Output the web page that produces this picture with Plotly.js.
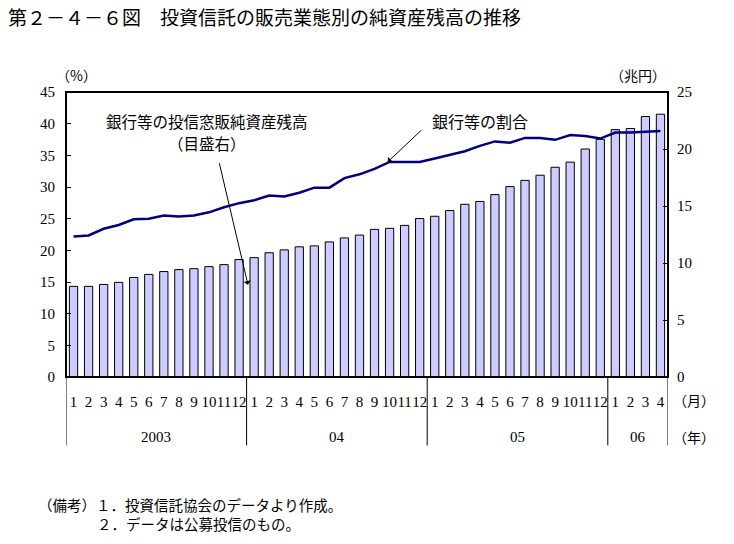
<!DOCTYPE html>
<html>
<head>
<meta charset="utf-8">
<script src="https://cdn.plot.ly/plotly-3.0.1.min.js"></script>
<style>html,body{margin:0;padding:0;background:#fff;}#chart{width:734px;height:544px;}</style>
</head>
<body>
<div id="chart"></div>
<script>
// ---- data ----
const months = ['1','2','3','4','5','6','7','8','9','10','11','12',
                '1','2','3','4','5','6','7','8','9','10','11','12',
                '1','2','3','4','5','6','7','8','9','10','11','12',
                '1','2','3','4'];
const yearLabels = ['2003','04','05','06'];
const yearCounts = [12, 12, 12, 4];
// 銀行等の投信窓販純資産残高（兆円, 目盛右）
const balance = [7.95,7.95,8.12,8.3,8.73,9.0,9.25,9.42,9.5,9.68,9.86,10.3,
                 10.47,10.9,11.15,11.42,11.5,11.85,12.2,12.45,12.95,13.04,13.3,13.9,
                 14.1,14.6,15.15,15.4,16.0,16.7,17.25,17.7,18.4,18.85,20.0,20.85,
                 21.7,21.8,22.85,23.05];
// 銀行等の割合（%）
const share = [22.2,22.35,23.4,24.0,24.9,25.0,25.5,25.35,25.5,26.0,26.8,27.45,
               27.9,28.65,28.5,29.1,29.9,29.9,31.4,32.0,32.85,33.95,33.95,33.95,
               34.5,35.07,35.65,36.5,37.2,37.0,37.75,37.75,37.45,38.2,38.05,37.65,
               38.6,38.6,38.75,38.85];

const idx = months.map((m, i) => i);
const JP = '"Noto Sans CJK JP", sans-serif';
const NUM = '"Liberation Serif", serif';

const traces = [
  {type:'bar', x: idx, y: balance, yaxis:'y',
   marker:{color:'#ccccff', line:{color:'#000', width:1}},
   hoverinfo:'skip', showlegend:false},
  {type:'scatter', mode:'lines', x: idx, y: share, yaxis:'y2',
   line:{color:'#000080', width:2.5}, hoverinfo:'skip', showlegend:false}
];

// year separators and year labels
const shapes = [{type:'rect', xref:'paper', yref:'paper', x0:0, x1:1, y0:0, y1:1,
                 line:{color:'#000', width:2}}];
const annotations = [];
let start = 0;
const bounds = [-0.5];
yearCounts.forEach((c, k) => {
  const end = start + c;
  bounds.push(end - 0.5);
  annotations.push({xref:'x', yref:'paper', x:(start + end - 1)/2, y:-0.21,
    text: yearLabels[k], showarrow:false, font:{family:NUM, size:15, color:'#000'},
    xanchor:'center', yanchor:'middle'});
  start = end;
});
bounds.forEach(b => shapes.push({type:'line', xref:'x', yref:'paper', x0:b, x1:b,
  y0:0, y1:-0.24, line:{color:'#000', width:1}}));

annotations.push(
  {xref:'paper', yref:'paper', x:1.005, y:-0.082, xanchor:'left', yanchor:'middle',
   text:'（月）', showarrow:false, font:{family:JP, size:14, color:'#000'}},
  {xref:'paper', yref:'paper', x:1.005, y:-0.21, xanchor:'left', yanchor:'middle',
   text:'（年）', showarrow:false, font:{family:JP, size:14, color:'#000'}},
  {xref:'paper', yref:'paper', x:0.018, y:1.06, xanchor:'center', yanchor:'middle',
   text:'（%）', showarrow:false, font:{family:JP, size:14, color:'#000'}},
  {xref:'paper', yref:'paper', x:0.95, y:1.06, xanchor:'center', yanchor:'middle',
   text:'（兆円）', showarrow:false, font:{family:JP, size:14, color:'#000'}},
  {xref:'paper', yref:'paper', x:0.235, y:(377-121)/285, xanchor:'center', yanchor:'middle',
   text:'銀行等の投信窓販純資産残高', showarrow:false,
   font:{family:JP, size:15.5, color:'#000'}},
  {xref:'paper', yref:'paper', x:0.235, y:(377-143)/285, xanchor:'center', yanchor:'middle',
   text:'（目盛右）', showarrow:false,
   font:{family:JP, size:15.5, color:'#000'}},
  {xref:'paper', yref:'paper', x:0.688, y:0.9, xanchor:'center', yanchor:'middle',
   text:'銀行等の割合', showarrow:false, font:{family:JP, size:16, color:'#000'}},
  // arrows
  {xref:'x', yref:'y2', x:11.59, y:14.58, ax:-29, ay:-123, text:'', showarrow:true,
   arrowhead:1, arrowsize:1.2, arrowwidth:1, arrowcolor:'#000'},
  {xref:'x', yref:'y2', x:20.88, y:33.97, ax:35, ay:-33, text:'', showarrow:true,
   arrowhead:1, arrowsize:1.2, arrowwidth:1, arrowcolor:'#000'},
  // notes
  {xref:'paper', yref:'paper', x:(36-66)/602, y:(377-504)/285, xanchor:'left', yanchor:'middle',
   text:'（備考）１．投資信託協会のデータより作成。', showarrow:false,
   font:{family:JP, size:14.5, color:'#000'}},
  {xref:'paper', yref:'paper', x:(95-66)/602, y:(377-523)/285, xanchor:'left', yanchor:'middle',
   text:'２．データは公募投信のもの。', showarrow:false,
   font:{family:JP, size:14.5, color:'#000'}}
);

const layout = {
  width:734, height:544,
  margin:{l:66, r:66, t:92, b:167},
  paper_bgcolor:'#fff', plot_bgcolor:'#fff',
  title:{text:'第２－４－６図　投資信託の販売業態別の純資産残高の推移',
         xref:'container', x:8/734, xanchor:'left', yref:'container', y:1-18/544, yanchor:'middle',
         font:{family:JP, size:19, color:'#000'}},
  bargap:0.45,
  xaxis:{range:[-0.5, 39.5], tickvals: idx, ticktext: months, ticks:'', tickangle:0,
         showgrid:false, zeroline:false, showline:false, fixedrange:true,
         tickfont:{family:NUM, size:15, color:'#000'}, ticklabelstandoff:14},
  yaxis:{range:[0,25], dtick:5, side:'right', showgrid:false, zeroline:false,
         showline:false, ticks:'inside', ticklen:5, tickcolor:'#000',
         tickfont:{family:NUM, size:15, color:'#000'}, ticklabelstandoff:8},
  yaxis2:{range:[0,45], dtick:5, side:'left', overlaying:'y', showgrid:false,
          zeroline:false, showline:false, ticks:'inside', ticklen:5, tickcolor:'#000',
          tickfont:{family:NUM, size:15, color:'#000'}, ticklabelstandoff:10},
  shapes: shapes,
  annotations: annotations
};

Plotly.newPlot('chart', traces, layout, {staticPlot:true});
</script>
</body>
</html>
